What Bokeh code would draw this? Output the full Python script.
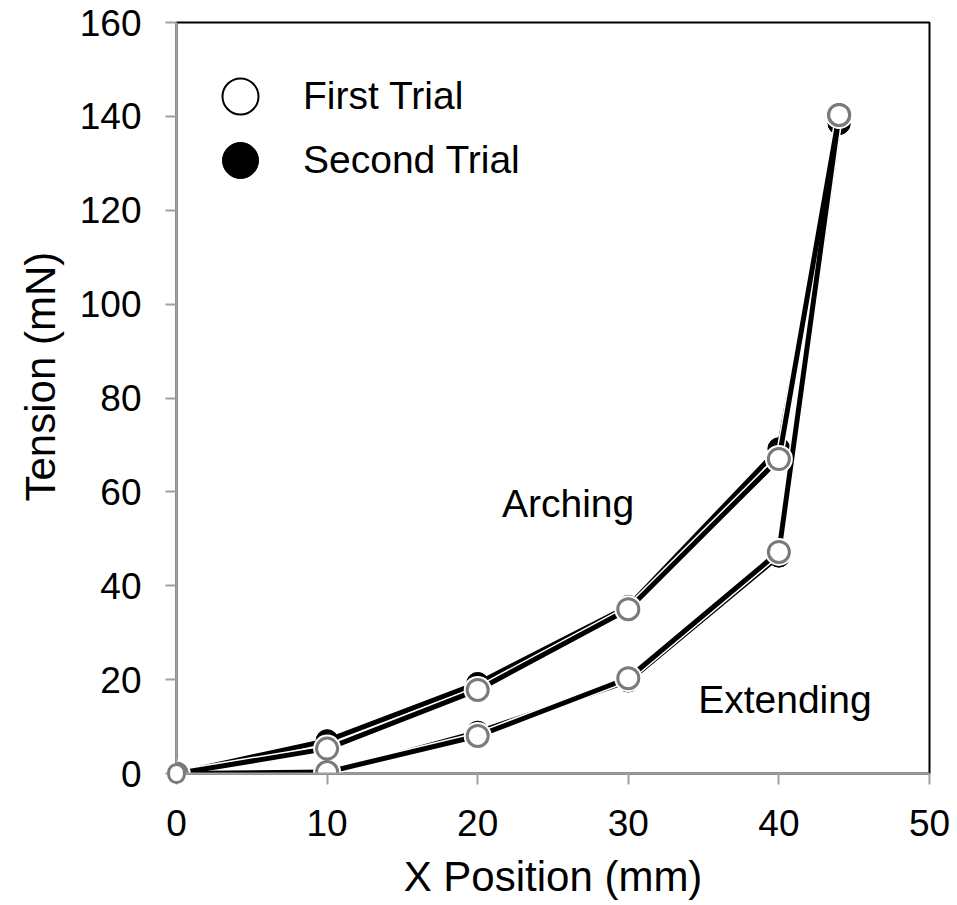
from bokeh.plotting import figure
from bokeh.models import Range1d, Legend, LegendItem, Label, FixedTicker, Title
from bokeh.embed import file_html
from bokeh.resources import INLINE

# Tension measured along the x position, two trials, arching and extending
x_mm = [0, 10, 20, 30, 40, 44]
arch_first = [0, 5.3, 17.8, 35.0, 67.0, 140.3]
arch_second = [0, 7.0, 19.2, 35.6, 69.2, 138.5]
ext_first = [0, 0.3, 8.0, 20.3, 47.2, 140.3]
ext_second = [0, 0.0, 8.8, 19.7, 46.3, 138.5]

x_ticks = [0, 10, 20, 30, 40, 50]
y_ticks = [0, 20, 40, 60, 80, 100, 120, 140, 160]

FONT = "Liberation Sans"
AXIS_GRAY = "#a0a0a0"
RING_GRAY = "#7a7a7a"
NAN = float("nan")

p = figure(width=957, height=905,
           x_range=Range1d(0, 50), y_range=Range1d(0, 160),
           output_backend="svg", toolbar_location=None,
           min_border_left=176, min_border_right=28,
           min_border_top=22, min_border_bottom=132)

p.background_fill_color = "white"
p.border_fill_color = "white"
p.outline_line_color = "black"
p.outline_line_width = 2
p.grid.visible = False

p.xaxis.ticker = FixedTicker(ticks=x_ticks)
p.yaxis.ticker = FixedTicker(ticks=y_ticks)
p.xaxis.axis_label = "X Position (mm)"

for ax in (p.xaxis, p.yaxis):
    ax.axis_line_color = AXIS_GRAY
    ax.axis_line_width = 2
    ax.major_tick_line_color = AXIS_GRAY
    ax.major_tick_line_width = 2
    ax.major_tick_in = 0
    ax.major_tick_out = 11
    ax.minor_tick_line_color = None
    ax.major_label_text_font = FONT
    ax.major_label_text_font_size = "37px"
    ax.major_label_text_color = "black"
    ax.axis_label_text_font = FONT
    ax.axis_label_text_font_size = "42px"
    ax.axis_label_text_font_style = "normal"
    ax.axis_label_text_color = "black"

p.yaxis.major_label_standoff = 24
p.xaxis.major_label_standoff = 25
p.xaxis.axis_label_standoff = 14

# Vertical axis title, starting a little above the bottom of the axis
p.add_layout(Title(text="Tension (mN)", align="left", offset=272,
                   standoff=26, text_font=FONT, text_font_size="42px",
                   text_font_style="normal", text_color="black"), "left")

# Second trial: black lines and filled markers
for ys in (arch_second, ext_second):
    p.line(x_mm, ys, line_color="black", line_width=5)
for ys in (arch_second, ext_second):
    p.scatter(x_mm, ys, marker="circle", size=22,
              fill_color="black", line_color="black", line_width=1)

# First trial: black lines with a thin white edge, open markers
for ys in (arch_first, ext_first):
    p.line(x_mm, ys, line_color="white", line_width=8)
for ys in (arch_first, ext_first):
    p.line(x_mm, ys, line_color="black", line_width=5)
for ys in (arch_first, ext_first):
    p.scatter(x_mm, ys, marker="circle", size=28,
              fill_color="white", line_color=None)
for ys in (arch_first, ext_first):
    p.scatter(x_mm, ys, marker="circle", size=21,
              fill_color="white", line_color=RING_GRAY, line_width=3)

# The shared starting point sits on the axes corner; its ring is kept in
# a side panel (the spare right margin) so the plot frame does not cut it off.
p.add_layout(Label(x=x_mm[0], y=arch_first[0], text="0", anchor="center",
                   text_font_size="14px", text_color="white",
                   padding=4, border_radius=12,
                   background_fill_color="white",
                   border_line_color=RING_GRAY, border_line_width=3), "right")

# Curve annotations
p.add_layout(Label(x=26, y=57.5, text="Arching", text_align="center",
                   text_baseline="middle", text_font=FONT,
                   text_font_size="39px", text_color="black"))
p.add_layout(Label(x=40.4, y=15.8, text="Extending", text_align="center",
                   text_baseline="middle", text_font=FONT,
                   text_font_size="39px", text_color="black"))

# Legend swatches (no visible points in the plot area)
leg_first = p.scatter(x=[NAN], y=[NAN], marker="circle", fill_color="white",
                      line_color="black", line_width=2)
leg_second = p.scatter(x=[NAN], y=[NAN], marker="circle", fill_color="black",
                       line_color="black")


def legend_for(label, renderer, y_loc):
    return Legend(items=[LegendItem(label=label, renderers=[renderer])],
                  location=(19, y_loc), glyph_width=90, glyph_height=90,
                  label_standoff=18, label_text_font=FONT,
                  label_text_font_size="39px", label_text_color="black",
                  border_line_color=None, background_fill_alpha=0,
                  padding=0, margin=0)


p.add_layout(legend_for("First Trial", leg_first, 632))
p.add_layout(legend_for("Second Trial", leg_second, 568))

open("out.html", "w").write(file_html(p, INLINE))
